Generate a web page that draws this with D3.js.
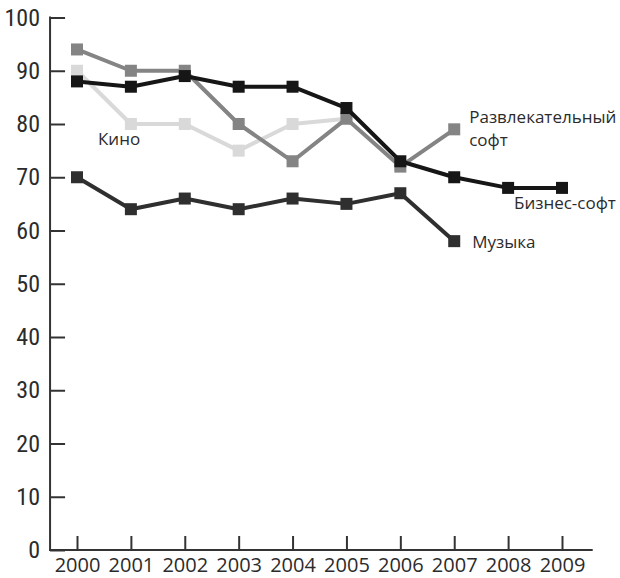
<!DOCTYPE html>
<html>
<head>
<meta charset="utf-8">
<script src="https://cdn.jsdelivr.net/npm/d3@7"></script>
<style>
  html, body { margin: 0; padding: 0; background: #fff; }
  svg { display: block; }
</style>
</head>
<body>
<svg id="chart" width="620" height="578"></svg>
<script>
// ---- data ----
const years = [2000, 2001, 2002, 2003, 2004, 2005, 2006, 2007, 2008, 2009];
const yTicks = [0, 10, 20, 30, 40, 50, 60, 70, 80, 90, 100];
const seriesNames = ["Кино", "Развлекательный софт", "Музыка", "Бизнес-софт"];
const kino = [90, 80, 80, 75, 80, 81];
const razvlSoft = [94, 90, 90, 80, 73, 81, 72, 79];
const muzyka = [70, 64, 66, 64, 66, 65, 67, 58];
const biznesSoft = [88, 87, 89, 87, 87, 83, 73, 70, 68, 68];

// ---- setup ----
const svg = d3.select("#chart");
const x = d3.scaleLinear().domain([2000, 2009]).range([77, 562]);
const y = d3.scaleLinear().domain([0, 100]).range([550, 17.5]);
const axisColor = "#333";

const series = [
  { name: seriesNames[0], values: kino, color: "#d9d9d9" },
  { name: seriesNames[1], values: razvlSoft, color: "#848484" },
  { name: seriesNames[2], values: muzyka, color: "#2f2f2f" },
  { name: seriesNames[3], values: biznesSoft, color: "#161616" }
];

// ---- axes ----
const yAxis = d3.axisLeft(y).tickValues(yTicks).tickSizeInner(-15).tickSizeOuter(0).tickPadding(10);
const gy = svg.append("g").attr("transform", `translate(${x(1999.5)},0)`).call(yAxis);
gy.select(".domain").remove();
gy.selectAll(".tick line").attr("stroke", axisColor).attr("stroke-width", 2);
gy.selectAll(".tick text")
  .attr("fill", "#2b2b2b")
  .style("font-family", "'Liberation Sans Narrow', 'Roboto Condensed', 'DejaVu Sans Condensed', sans-serif")
  .style("font-size", "24px");

const xAxis = d3.axisBottom(x).tickValues(years).tickFormat(d3.format("d")).tickSizeInner(-14).tickSizeOuter(0).tickPadding(8);
const gx = svg.append("g").attr("transform", `translate(0,${y(0)})`).call(xAxis);
gx.select(".domain").remove();
gx.selectAll(".tick line").attr("stroke", axisColor).attr("stroke-width", 2);
gx.selectAll(".tick text")
  .attr("fill", "#2b2b2b")
  .style("font-family", "'Open Sans', 'Noto Sans', sans-serif")
  .style("font-size", "20px");

// axis lines
svg.append("line")
  .attr("x1", x(1999.5)).attr("x2", x(1999.5))
  .attr("y1", y(100) - 1).attr("y2", y(0) + 1)
  .attr("stroke", axisColor).attr("stroke-width", 2);
svg.append("line")
  .attr("x1", x(1999.5) - 1).attr("x2", x(2009.57))
  .attr("y1", y(0)).attr("y2", y(0))
  .attr("stroke", axisColor).attr("stroke-width", 2);

// ---- lines and markers ----
const line = d3.line().x((d, i) => x(years[i])).y(d => y(d));
const sq = 12;
series.forEach(s => {
  const g = svg.append("g");
  g.append("path")
    .attr("d", line(s.values))
    .attr("fill", "none")
    .attr("stroke", s.color)
    .attr("stroke-width", 4)
    .attr("stroke-linejoin", "round");
  g.selectAll("rect")
    .data(s.values)
    .join("rect")
    .attr("x", (d, i) => x(years[i]) - sq / 2)
    .attr("y", d => y(d) - sq / 2)
    .attr("width", sq)
    .attr("height", sq)
    .attr("fill", s.color);
});

// ---- labels ----
const labelFont = "'Open Sans', 'Noto Sans', sans-serif";
const lbl = (tx, ty, t) => svg.append("text")
  .attr("x", tx).attr("y", ty)
  .attr("fill", "#2b2b2b")
  .style("font-family", labelFont)
  .style("font-size", "17px")
  .text(t);

lbl(x(2000) + 21, 145, "Кино");
lbl(x(2007) + 15, 123, "Развлекательный");
lbl(x(2007) + 15, 146, "софт");
lbl(x(2009) - 48, 209, "Бизнес-софт");
lbl(x(2007) + 18, 248, "Музыка");
</script>
</body>
</html>
